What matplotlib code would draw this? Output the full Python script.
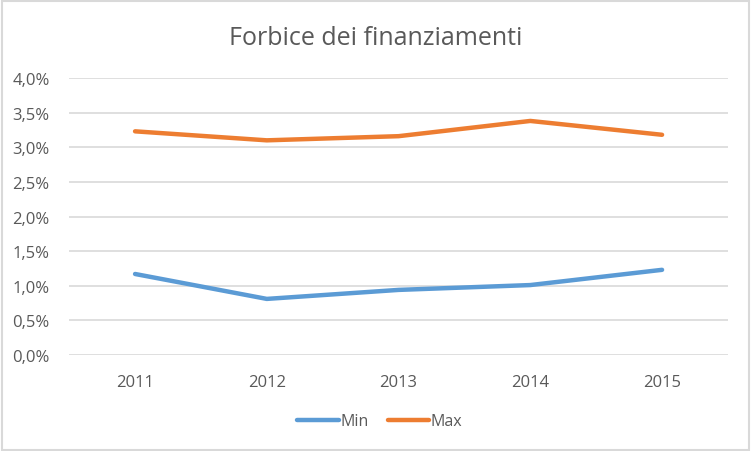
import numpy as np
import matplotlib.pyplot as plt
from matplotlib.ticker import FuncFormatter, MultipleLocator
from matplotlib.patches import Rectangle

plt.rcParams['font.family'] = ['Open Sans', 'DejaVu Sans']

# dati
anni = ['2011', '2012', '2013', '2014', '2015']
val_min = [1.17, 0.81, 0.94, 1.01, 1.23]
val_max = [3.23, 3.10, 3.16, 3.38, 3.18]

fig = plt.figure(figsize=(7.52, 4.52), dpi=100)
ax = fig.add_axes([0.092, 0.2124, 0.876, 0.6128])

x = np.arange(len(anni))
ax.plot(x, val_min, color='#5B9BD5', lw=3.2, solid_capstyle='round', label='Min', zorder=3)
ax.plot(x, val_max, color='#ED7D31', lw=3.2, solid_capstyle='round', label='Max', zorder=3)

ax.set_xlim(-0.5, 4.5)
ax.set_ylim(0, 4.0)
ax.yaxis.set_major_locator(MultipleLocator(0.5))
ax.yaxis.set_major_formatter(FuncFormatter(lambda v, p: f'{v:.1f}%'.replace('.', ',')))
ax.set_xticks(x)
ax.set_xticklabels(anni)

ax.grid(axis='y', color='#d9d9d9', lw=1.2)
for s in ax.spines.values():
    s.set_visible(False)
ax.tick_params(length=0, labelsize=12, colors='#595959')
ax.tick_params(axis='y', pad=14)
ax.tick_params(axis='x', pad=14)

fig.text(0.5, 0.915, 'Forbice dei finanziamenti', ha='center', va='center',
         fontsize=18, color='#595959')

fig.legend(loc='center', bbox_to_anchor=(0.505, 0.066), ncol=2, frameon=False,
           fontsize=11.5, labelcolor='#595959', handlelength=2.6,
           handletextpad=0.1, columnspacing=1.2)

# bordo del grafico
fig.patches.append(Rectangle((0.002, 0.003), 0.994, 0.993, transform=fig.transFigure,
                             fill=False, edgecolor='#d9d9d9', lw=1.5))

fig.savefig('out.png', dpi=100)
